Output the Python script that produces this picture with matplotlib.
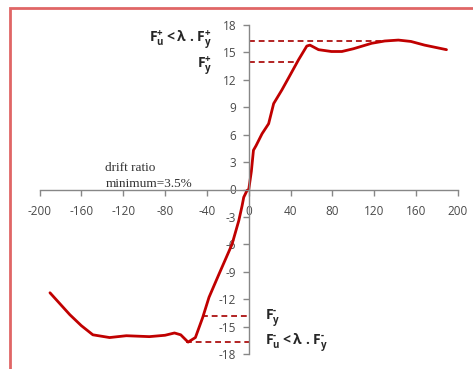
import matplotlib
matplotlib.use("Agg")
import matplotlib.pyplot as plt
from matplotlib.patches import Rectangle

# Data
drift = [-190, -171, -160, -149, -133, -117, -95, -80, -71, -65, -58, -51, -44, -38,
         -28.6, -16, -9.5, -6.4, -4.8, -1.6, 0, 2.5, 4.5, 7, 12.7, 19, 23.8, 31.7, 38,
         47.6, 55.5, 58.5, 66.7, 79, 89, 100, 117.5, 130, 143, 155, 168, 189]
force = [-11.3, -13.7, -14.9, -15.9, -16.2, -16.0, -16.1, -15.95, -15.7, -15.9, -16.7,
         -16.2, -14.0, -11.8, -9.3, -6.0, -3.4, -1.8, -0.85, -0.1, 0, 2.0, 4.3, 4.8,
         6.1, 7.2, 9.4, 10.9, 12.2, 14.2, 15.7, 15.8, 15.3, 15.1, 15.1, 15.4, 16.0,
         16.25, 16.35, 16.2, 15.8, 15.3]

fu_pos, fy_pos = 16.3, 14.0
fy_neg, fu_neg = -13.8, -16.7
fu_pos_x, fy_pos_x = 128, 44
fy_neg_x, fu_neg_x = -45, -60

xticks = list(range(-200, 201, 40))
yticks = list(range(-18, 19, 3))

plt.rcParams["axes.unicode_minus"] = False
plt.rcParams["mathtext.fontset"] = "custom"
plt.rcParams["mathtext.rm"] = "Open Sans:bold"
plt.rcParams["mathtext.bf"] = "Open Sans:bold"
plt.rcParams["mathtext.it"] = "Open Sans:bold"

W, H = 473, 369
fig = plt.figure(figsize=(W / 100, H / 100), dpi=100)
ax = fig.add_axes([39.5 / W, (H - 354) / H, (458 - 39.5) / W, (354 - 25) / H])
ax.set_xlim(-200, 200)
ax.set_ylim(-18, 18)

gray = "#878787"
for s in ["top", "right"]:
    ax.spines[s].set_visible(False)
ax.spines["left"].set_position(("data", 0))
ax.spines["bottom"].set_position(("data", 0))
for s in ["left", "bottom"]:
    ax.spines[s].set_color(gray)
    ax.spines[s].set_linewidth(1.0)

ax.set_xticks(xticks)
ax.set_yticks(yticks)
ax.tick_params(axis="both", direction="out", length=4, width=1, color=gray,
               labelsize=8.5, labelcolor="#4a4a4a")
ax.tick_params(axis="x", pad=7)
ax.tick_params(axis="y", pad=5)
for lab in ax.get_xticklabels() + ax.get_yticklabels():
    lab.set_fontfamily("Open Sans")

dash_c = "#B22222"
ax.plot([0, fu_pos_x], [fu_pos, fu_pos], ls="--", color=dash_c, lw=1.4, dashes=(3, 2))
ax.plot([0, fy_pos_x], [fy_pos, fy_pos], ls="--", color=dash_c, lw=1.4, dashes=(3, 2))
ax.plot([fy_neg_x, 0], [fy_neg, fy_neg], ls="--", color=dash_c, lw=1.4, dashes=(3, 2))
ax.plot([fu_neg_x, 0], [fu_neg, fu_neg], ls="--", color=dash_c, lw=1.4, dashes=(3, 2))

ax.plot(drift, force, color="#C00000", lw=2.0, solid_joinstyle="round",
        solid_capstyle="round")

tc = "#262626"
ax.text(-35, fu_pos, r"$\mathbf{F_u^{\text{+}}< \lambda\ .F_y^{\text{+}}}$", ha="right",
        va="center", fontsize=10, color=tc)
ax.text(-35, fy_pos - 0.5, r"$\mathbf{F_y^{\text{+}}}$", ha="right", va="center",
        fontsize=10, color=tc)
ax.text(16, fy_neg - 0.3, r"$\mathbf{F_y^{\text{-}}}$", ha="left", va="center",
        fontsize=10, color=tc)
ax.text(16, fu_neg, r"$\mathbf{F_u^{\text{-}}< \lambda\ .F_y^{\text{-}}}$", ha="left",
        va="center", fontsize=10, color=tc)

ax.text(-137, 2.3, "drift ratio", family="Liberation Serif", fontsize=9.5,
        color="#333333", ha="left", va="center")
ax.text(-137, 0.55, "minimum=3.5%", family="Liberation Serif", fontsize=9.5,
        color="#333333", ha="left", va="center")

fig.patches.append(Rectangle((10 / W, -0.2), 1.5, 1.2 - 8 / H, transform=fig.transFigure,
                             fill=False, edgecolor="#E06666", lw=2.0, clip_on=False))

fig.savefig("out.png", dpi=100)
